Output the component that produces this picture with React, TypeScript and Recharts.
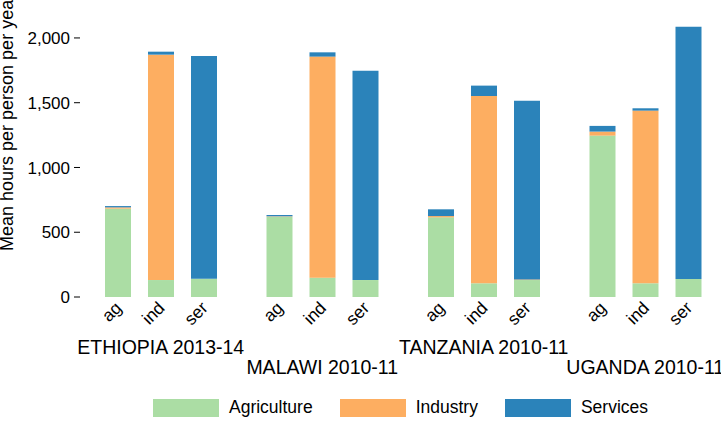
import { BarChart, Bar, XAxis, YAxis, Legend } from "recharts";

const countries = ["ETHIOPIA 2013-14", "MALAWI 2010-11", "TANZANIA 2010-11", "UGANDA 2010-11"];
const groups = ["ag", "ind", "ser"];
const yTicks = [0, 500, 1000, 1500, 2000];

// hours per worker group (ag, ind, ser) for each country, in country order
const agriculture = [682, 131, 141, 620, 149, 131, 615, 106, 131, 1246, 106, 139];
const industry = [10, 1740, 0, 3, 1707, 0, 10, 1446, 5, 31, 1333, 0];
const services = [10, 23, 1720, 10, 33, 1616, 52, 80, 1380, 44, 18, 1948];

const sectors = [
  { key: "agri", name: "Agriculture", color: "#abdda4", values: agriculture },
  { key: "indu", name: "Industry", color: "#fdae61", values: industry },
  { key: "serv", name: "Services", color: "#2b83ba", values: services },
];

const data = countries.map((country, c) => {
  const row: Record<string, string | number> = { country };
  groups.forEach((g, gi) => {
    sectors.forEach((s) => {
      row[`${g}_${s.key}`] = s.values[c * groups.length + gi];
    });
  });
  return row;
});

const BAR_SIZE = 26;
const BAR_GAP = 17;
const FONT = "'Liberation Sans', Arial, sans-serif";

function CountryTick({ x, y, payload, index }: any) {
  const step = BAR_SIZE + BAR_GAP;
  return (
    <g>
      {groups.map((g, i) => (
        <text
          key={g}
          x={0}
          y={0}
          transform={`translate(${x + (i - 1) * step + 5},${y + 12}) rotate(-45)`}
          textAnchor="end"
          fontSize={17.5}
          fill="#000"
        >
          {g}
        </text>
      ))}
      <text x={x} y={y + (index % 2 === 0 ? 57 : 77)} textAnchor="middle" fontSize={19.5} fill="#000">
        {payload.value}
      </text>
    </g>
  );
}

function YLabel() {
  return (
    <text x={0} y={0} transform="translate(13,251) rotate(-90)" fontSize={18} fill="#000">
      Mean hours per person per year
    </text>
  );
}

function LegendBox() {
  return (
    <div style={{ display: "flex", alignItems: "center", fontFamily: FONT, fontSize: 17.5, color: "#000" }}>
      {sectors.map((s) => (
        <div key={s.key} style={{ display: "flex", alignItems: "center", marginRight: 27 }}>
          <span style={{ width: 66, height: 18, background: s.color, display: "inline-block", marginRight: 10 }} />
          <span>{s.name}</span>
        </div>
      ))}
    </div>
  );
}

export default function App() {
  return (
    <div
      style={{
        position: "absolute",
        left: 0,
        top: 0,
        width: 721,
        height: 423,
        overflow: "hidden",
        background: "#fff",
        fontFamily: FONT,
      }}
    >
      <BarChart
        width={726}
        height={423}
        data={data}
        margin={{ top: 25, right: 0, bottom: 0, left: 0 }}
        barSize={BAR_SIZE}
        barGap={BAR_GAP}
      >
        <XAxis
          dataKey="country"
          axisLine={false}
          tickLine={false}
          tickSize={0}
          tickMargin={0}
          height={126}
          interval={0}
          tick={<CountryTick />}
        />
        <YAxis
          width={80}
          domain={[0, 2100]}
          ticks={yTicks}
          axisLine={false}
          tickSize={6}
          tickMargin={4}
          tickLine={{ stroke: "#000" }}
          tick={{ fill: "#000", fontSize: 17 }}
          tickFormatter={(v: number) => v.toLocaleString("en-US")}
          label={<YLabel />}
        />
        <Legend
          layout="horizontal"
          verticalAlign="middle"
          align="center"
          wrapperStyle={{ top: 397, left: 153, width: "auto" }}
          content={<LegendBox />}
        />
        {groups.map((g) =>
          sectors.map((s) => (
            <Bar
              key={`${g}_${s.key}`}
              dataKey={`${g}_${s.key}`}
              name={s.name}
              stackId={g}
              fill={s.color}
              isAnimationActive={false}
            />
          ))
        )}
      </BarChart>
    </div>
  );
}
